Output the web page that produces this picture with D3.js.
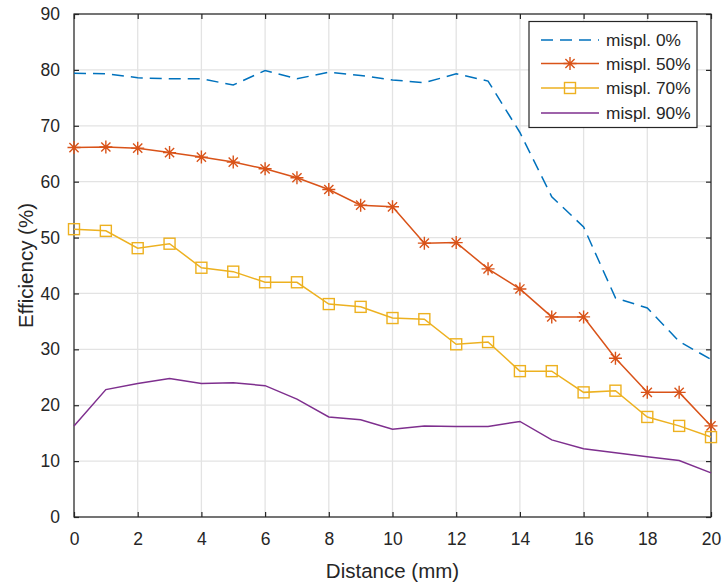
<!DOCTYPE html>
<html><head><meta charset="utf-8">
<script src="https://cdn.jsdelivr.net/npm/d3@7/dist/d3.min.js"></script>
<style>body{margin:0;background:#fff}svg{display:block}text{font-family:"Liberation Sans",Arial,Helvetica,sans-serif;fill:#262626}</style>
</head><body><svg id="c" width="723" height="583"></svg>
<script>
const distance = d3.range(0, 21);
const seriesNames = ["mispl. 0%", "mispl. 50%", "mispl. 70%", "mispl. 90%"];
const mispl0  = [79.4,79.3,78.6,78.4,78.4,77.3,79.9,78.4,79.6,79.0,78.2,77.7,79.3,78.0,68.8,57.3,51.9,39.2,37.4,31.4,28.2];
const mispl50 = [66.1,66.2,66.0,65.2,64.4,63.5,62.3,60.7,58.6,55.8,55.5,49.0,49.1,44.4,40.8,35.8,35.8,28.4,22.3,22.3,16.3];
const mispl70 = [51.5,51.2,48.1,48.9,44.6,43.9,42.0,42.0,38.1,37.6,35.6,35.4,30.9,31.3,26.1,26.1,22.3,22.6,17.9,16.3,14.3];
const mispl90 = [16.3,22.8,23.9,24.8,23.9,24.0,23.5,21.1,17.9,17.4,15.7,16.3,16.2,16.2,17.1,13.8,12.2,11.5,10.8,10.1,7.9];
const xTicks = [0,2,4,6,8,10,12,14,16,18,20];
const yTicks = [0,10,20,30,40,50,60,70,80,90];
const colors = ["#0072BD","#D95319","#EDB120","#7E2F8E"];
const markers = ["none","asterisk","square","none"];
const dashes = ["12,7", null, null, null];
const allSeries = [mispl0, mispl50, mispl70, mispl90];

const svg = d3.select("#c");
const L=74, R=711, T=14, B=517;
const x = d3.scaleLinear().domain([0,20]).range([L,R]);
const y = d3.scaleLinear().domain([0,90]).range([B,T]);

// grid
const g = svg.append("g");
g.selectAll(".gx").data(xTicks).join("line").attr("x1",d=>x(d)).attr("x2",d=>x(d)).attr("y1",T).attr("y2",B).attr("stroke","#e3e3e3").attr("stroke-width",1.3);
g.selectAll(".gy").data(yTicks).join("line").attr("y1",d=>y(d)).attr("y2",d=>y(d)).attr("x1",L).attr("x2",R).attr("stroke","#e3e3e3").attr("stroke-width",1.3);

// axes
const ax = svg.append("g");
const tl = 5;
ax.append("g").attr("transform",`translate(0,${B})`).call(d3.axisBottom(x).tickValues(xTicks).tickSize(-tl).tickPadding(16)).call(s=>s.select(".domain").remove());
ax.append("g").attr("transform",`translate(0,${T})`).call(d3.axisTop(x).tickValues(xTicks).tickSize(-tl).tickFormat("")).call(s=>s.select(".domain").remove());
ax.append("g").attr("transform",`translate(${L},0)`).call(d3.axisLeft(y).tickValues(yTicks).tickSize(-tl).tickPadding(14)).call(s=>s.select(".domain").remove());
ax.append("g").attr("transform",`translate(${R},0)`).call(d3.axisRight(y).tickValues(yTicks).tickSize(-tl).tickFormat("")).call(s=>s.select(".domain").remove());
ax.selectAll(".tick line").attr("stroke","#262626").attr("stroke-width",1.2);
ax.selectAll(".tick text").attr("font-size",17.5).attr("fill","#262626").style("font-family","'Liberation Sans',Arial,sans-serif");
svg.append("rect").attr("x",L).attr("y",T).attr("width",R-L).attr("height",B-T).attr("fill","none").attr("stroke","#262626").attr("stroke-width",1.2);

// lines
const line = d3.line().x((d,i)=>x(distance[i])).y(d=>y(d));
function drawMarker(sel, type, cx, cy, color){
  if(type==="asterisk"){
    const r=6.5, s=r*0.707;
    const p=`M${cx-r},${cy}L${cx+r},${cy}M${cx},${cy-r}L${cx},${cy+r}M${cx-s},${cy-s}L${cx+s},${cy+s}M${cx-s},${cy+s}L${cx+s},${cy-s}`;
    sel.append("path").attr("d",p).attr("stroke",color).attr("stroke-width",1.4).attr("fill","none");
  } else if(type==="square"){
    sel.append("rect").attr("x",cx-5.5).attr("y",cy-5.5).attr("width",11).attr("height",11).attr("fill","none").attr("stroke",color).attr("stroke-width",1.4);
  }
}
allSeries.forEach((s,k)=>{
  const p = svg.append("path").datum(s).attr("d",line).attr("fill","none").attr("stroke",colors[k]).attr("stroke-width",1.5);
  if(dashes[k]) p.attr("stroke-dasharray",dashes[k]);
  const mg = svg.append("g");
  s.forEach((v,i)=>drawMarker(mg, markers[k], x(distance[i]), y(v), colors[k]));
});

// axis labels
svg.append("text").attr("x",(L+R)/2).attr("y",578).attr("text-anchor","middle").attr("font-size",20.5).text("Distance (mm)");
svg.append("text").attr("transform",`translate(33,${(T+B)/2}) rotate(-90)`).attr("text-anchor","middle").attr("font-size",20.5).text("Efficiency (%)");

// legend
const lg = svg.append("g");
lg.append("rect").attr("x",529).attr("y",21.5).attr("width",168).attr("height",106).attr("fill","#fff").attr("stroke","#262626").attr("stroke-width",1.2);
const ly = [40,63.5,88,113];
seriesNames.forEach((n,k)=>{
  const l = lg.append("line").attr("x1",541).attr("x2",599).attr("y1",ly[k]).attr("y2",ly[k]).attr("stroke",colors[k]).attr("stroke-width",1.5);
  if(dashes[k]) l.attr("stroke-dasharray",dashes[k]);
  drawMarker(lg, markers[k], 570, ly[k], colors[k]);
  lg.append("text").attr("x",606).attr("y",ly[k]+6).attr("font-size",17.3).text(n);
});
</script></body></html>
